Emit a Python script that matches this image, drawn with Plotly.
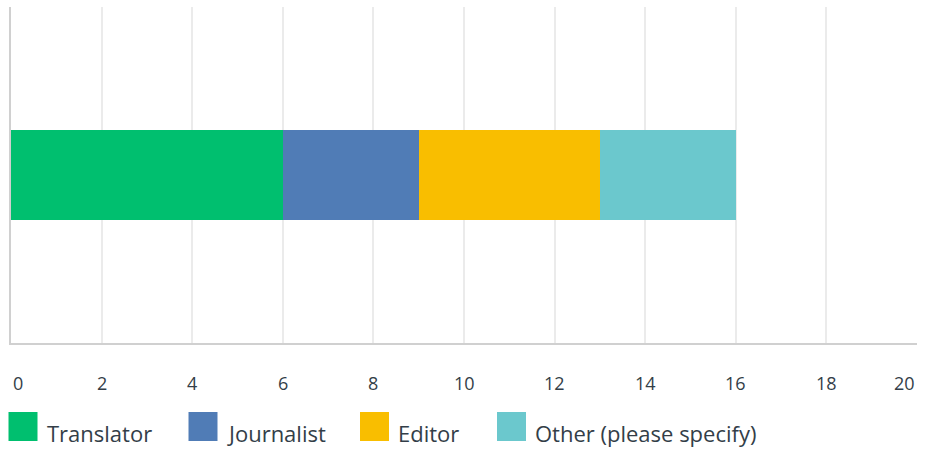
import plotly.graph_objects as go

# ---- data ----
categories = ["Translator", "Journalist", "Editor", "Other (please specify)"]
values = [6, 3, 4, 3]
colors = ["#00BF6F", "#507CB6", "#F9BE00", "#6BC8CD"]
tick_vals = [0, 2, 4, 6, 8, 10, 12, 14, 16, 18, 20]
tick_text = [str(v) for v in tick_vals]

W, H = 925, 451
ML, MR, MT, MB = 11, 8, 7, 108
PW = W - ML - MR
PH = H - MT - MB
TEXT = "#333E48"
FONT = "Open Sans"

def px_x(px):
    return (px - ML) / PW

def px_y(py):
    return (H - MB - py) / PH

fig = go.Figure()
for name, v, c in zip(categories, values, colors):
    fig.add_trace(go.Bar(
        x=[v], y=["q"], orientation="h", name=name,
        marker=dict(color=c, line=dict(width=0)),
        width=0.268, hoverinfo="name+x",
    ))

annotations = []
# tick labels
for i, (tv, tt) in enumerate(zip(tick_vals, tick_text)):
    anchor = "center"
    if i == 0:
        anchor = "left"
    elif i == len(tick_vals) - 1:
        anchor = "right"
    annotations.append(dict(
        x=tv, xref="x", y=px_y(383), yref="paper", text=tt, showarrow=False,
        xanchor=anchor, yanchor="middle",
        font=dict(family=FONT, size=18, color=TEXT),
    ))

# custom legend
legend_sq_x = [8.5, 188.5, 360, 497]
legend_txt_x = [45, 225, 396, 533]
shapes = []
for name, c, sx, tx in zip(categories, colors, legend_sq_x, legend_txt_x):
    shapes.append(dict(
        type="rect", xref="paper", yref="paper",
        x0=px_x(sx), x1=px_x(sx + 29), y0=px_y(441), y1=px_y(412),
        fillcolor=c, line=dict(width=0), layer="above",
    ))
    annotations.append(dict(
        x=px_x(tx), xref="paper", y=px_y(433), yref="paper", text=name,
        showarrow=False, xanchor="left", yanchor="middle",
        font=dict(family=FONT, size=22, color=TEXT),
    ))

fig.update_layout(
    width=W, height=H,
    margin=dict(l=ML, r=MR, t=MT, b=MB),
    barmode="stack",
    bargap=0,
    showlegend=False,
    plot_bgcolor="white",
    paper_bgcolor="white",
    xaxis=dict(
        range=[0, 20], tickvals=tick_vals, showticklabels=False,
        showgrid=True, gridcolor="#EBEBEB", gridwidth=1.5,
        zeroline=False, showline=True, linecolor="#D0D0D0", linewidth=2,
        ticks="", fixedrange=True,
    ),
    yaxis=dict(
        range=[-0.5, 0.5], showticklabels=False, showgrid=False,
        zeroline=False, showline=True, linecolor="#D0D0D0", linewidth=2,
        ticks="", fixedrange=True,
    ),
    annotations=annotations,
    shapes=shapes,
)

fig.write_html("out.html")
